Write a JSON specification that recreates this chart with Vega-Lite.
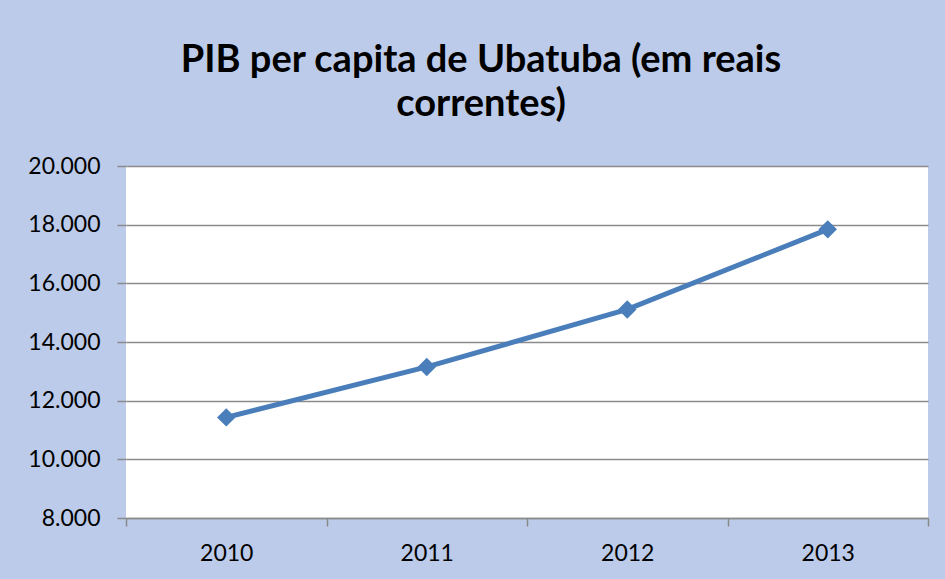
{
  "$schema": "https://vega.github.io/schema/vega-lite/v6.json",
  "width": 802,
  "height": 352,
  "autosize": {"type": "none"},
  "padding": {"left": 126, "top": 166, "right": 17, "bottom": 61},
  "background": "#bccbea",
  "title": {
    "text": ["PIB per capita de Ubatuba (em reais", "correntes)"],
    "font": "Lato",
    "fontSize": 38,
    "fontWeight": "bold",
    "color": "#000000",
    "anchor": "middle",
    "dx": -46,
    "dy": -19,
    "lineHeight": 44,
    "offset": 12
  },
  "data": {
    "values": [
      {"ano": "2010", "pib": 11430},
      {"ano": "2011", "pib": 13150},
      {"ano": "2012", "pib": 15110},
      {"ano": "2013", "pib": 17840}
    ]
  },
  "encoding": {
    "x": {
      "field": "ano",
      "type": "ordinal",
      "scale": {"type": "band", "paddingInner": 0, "paddingOuter": 0},
      "axis": {
        "title": null,
        "labelAngle": 0,
        "labelFont": "Lato",
        "labelFontSize": 23,
        "labelColor": "#000000",
        "labelPadding": 16,
        "tickBand": "extent",
        "tickSize": 8,
        "tickColor": "#8a8a8a",
        "tickWidth": 1.5,
        "domainColor": "#8a8a8a",
        "domainWidth": 1.5,
        "grid": false
      }
    },
    "y": {
      "field": "pib",
      "type": "quantitative",
      "scale": {"domain": [8000, 20000], "nice": false, "zero": false},
      "axis": {
        "title": null,
        "values": [8000, 10000, 12000, 14000, 16000, 18000, 20000],
        "labelExpr": "replace(format(datum.value, ','), ',', '.')",
        "labelFont": "Lato",
        "labelFontSize": 23,
        "labelColor": "#000000",
        "labelPadding": 17,
        "domain": false,
        "tickSize": 9,
        "tickColor": "#8a8a8a",
        "tickWidth": 1.5,
        "grid": true,
        "gridColor": "#8a8a8a",
        "gridWidth": 1.5
      }
    }
  },
  "layer": [
    {"mark": {"type": "line", "color": "#4a7ebb", "strokeWidth": 5}},
    {"mark": {"type": "point", "shape": "diamond", "filled": true, "size": 340, "color": "#4a7ebb", "opacity": 1}}
  ],
  "config": {
    "view": {"stroke": null, "fill": "#ffffff"}
  }
}
